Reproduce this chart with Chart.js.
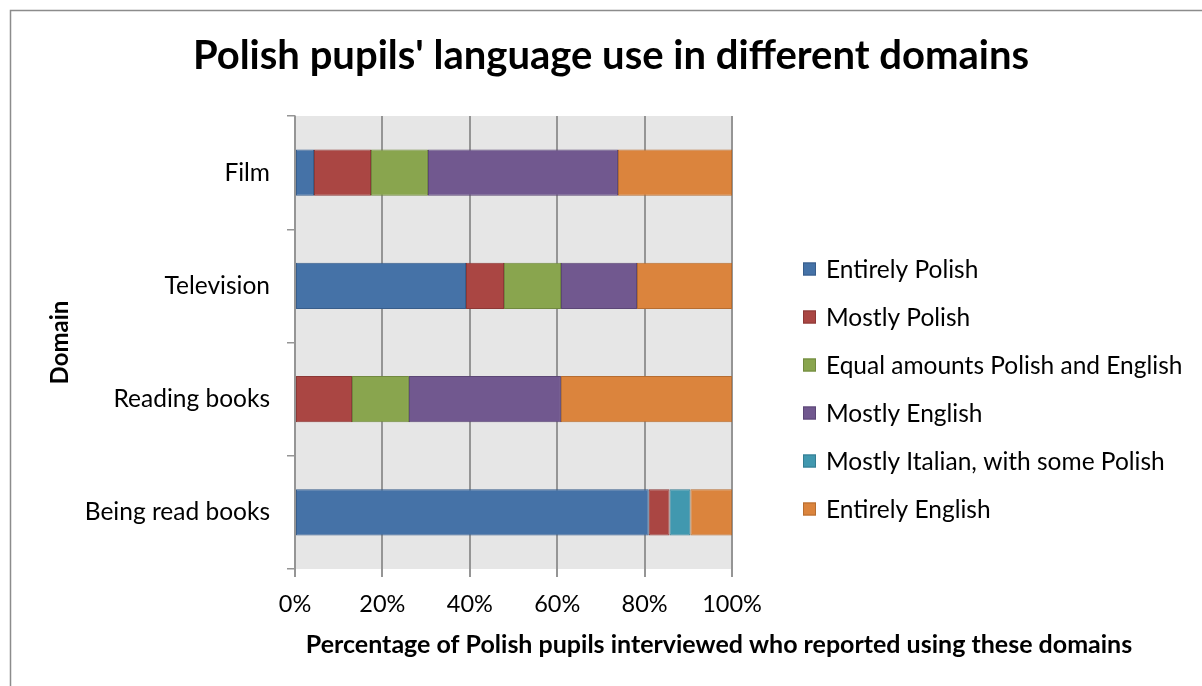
<!DOCTYPE html>
<html>
<head>
<meta charset="utf-8">
<script src="https://cdn.jsdelivr.net/npm/chart.js@4.4.1/dist/chart.umd.min.js"></script>
<style>
  html, body { margin: 0; padding: 0; background: #fff; }
  #wrap { width: 1202px; height: 686px; position: relative; }
</style>
</head>
<body>
<div id="wrap"><canvas id="domainChart" width="1202" height="686"></canvas></div>
<script>
const domains = ["Film", "Television", "Reading books", "Being read books"];

// share of pupils (%) per domain, one array per answer
const entirelyPolish = [4.35, 39.13, null, 80.95];
const mostlyPolish = [13.04, 8.70, 13.04, 4.76];
const equalAmounts = [13.04, 13.04, 13.04, null];
const mostlyEnglish = [43.48, 17.39, 34.78, null];
const mostlyItalian = [null, null, null, 4.76];
const entirelyEnglish = [26.09, 21.74, 39.13, 9.52];

const xTicks = [0, 20, 40, 60, 80, 100];

const chartTitle = "Polish pupils' language use in different domains";
const xTitle = "Percentage of Polish pupils interviewed who reported using these domains";

const FONT = "Lato, 'Open Sans', sans-serif";

const series = [
    { label: "Entirely Polish", data: entirelyPolish, fill: "#4572a7", edge: "#385d8a" },
    { label: "Mostly Polish", data: mostlyPolish, fill: "#aa4643", edge: "#8c3836" },
    { label: "Equal amounts Polish and English", data: equalAmounts, fill: "#89a54e", edge: "#71893f" },
    { label: "Mostly English", data: mostlyEnglish, fill: "#71588f", edge: "#5c4776" },
    { label: "Mostly Italian, with some Polish", data: mostlyItalian, fill: "#4198af", edge: "#357d91" },
    { label: "Entirely English", data: entirelyEnglish, fill: "#db843d", edge: "#b66d31" }
];

// grey plot background + outer frame
const backdrop = {
    id: "backdrop",
    beforeDraw(chart) {
        const { ctx, chartArea: a } = chart;
        ctx.save();
        ctx.fillStyle = "#e6e6e6";
        ctx.fillRect(a.left, a.top, a.right - a.left, a.bottom - a.top);
        ctx.strokeStyle = "#8c8c8c";
        ctx.lineWidth = 1.5;
        ctx.strokeRect(10.5, 10.5, 1400, 900);
        ctx.restore();
    }
};

// title, x-axis caption and legend drawn outside the plot area
const decorations = {
    id: "decorations",
    afterDraw(chart) {
        const { ctx } = chart;
        ctx.save();
        ctx.fillStyle = "#000";
        ctx.textAlign = "center";
        ctx.textBaseline = "alphabetic";
        ctx.font = "bold 40px " + FONT;
        ctx.fillText(chartTitle, 611, 69);
        ctx.font = "bold 25px " + FONT;
        ctx.fillText(xTitle, 719, 653);

        ctx.textAlign = "left";
        ctx.textBaseline = "middle";
        ctx.font = "24.5px " + FONT;
        chart.data.datasets.forEach((ds, i) => {
            const y = 269 + i * 48;
            ctx.fillStyle = ds.backgroundColor;
            ctx.fillRect(803, y - 6.5, 13, 13);
            ctx.strokeStyle = ds.borderColor;
            ctx.lineWidth = 1;
            ctx.strokeRect(803.5, y - 6, 12, 12);
            ctx.fillStyle = "#000";
            ctx.fillText(ds.label, 826, y + 1);
        });
        ctx.restore();
    }
};

new Chart(document.getElementById("domainChart"), {
    type: "bar",
    data: {
        labels: domains,
        datasets: series.map(s => ({
            label: s.label,
            data: s.data,
            backgroundColor: s.fill,
            borderColor: s.edge,
            borderWidth: 1,
            borderSkipped: false,
            barPercentage: 0.41,
            categoryPercentage: 1
        }))
    },
    options: {
        indexAxis: "y",
        responsive: false,
        animation: false,
        layout: { padding: { left: 10, right: 470, top: 116, bottom: 0 } },
        plugins: {
            legend: { display: false },
            tooltip: { enabled: false },
            title: { display: false }
        },
        scales: {
            x: {
                stacked: true,
                min: 0,
                max: 100,
                afterBuildTicks(scale) { scale.ticks = xTicks.map(v => ({ value: v })); },
                afterFit(scale) { scale.height = 117; },
                ticks: {
                    color: "#000",
                    font: { family: FONT, size: 23.5 },
                    padding: 13,
                    callback: v => v + "%"
                },
                grid: { color: "#959595", lineWidth: 2, tickLength: 8 },
                border: { display: false }
            },
            y: {
                stacked: true,
                afterFit(scale) { scale.width = 285; },
                ticks: {
                    color: "#000",
                    font: { family: FONT, size: 24.5 },
                    padding: 17
                },
                grid: { drawOnChartArea: false, color: "#959595", lineWidth: 1.5, tickLength: 8 },
                border: { display: true, color: "#959595", width: 1.5 },
                title: {
                    display: true,
                    text: "Domain",
                    color: "#000",
                    font: { family: FONT, size: 24, weight: "bold" },
                    padding: { top: 36, bottom: 0 }
                }
            }
        }
    },
    plugins: [backdrop, decorations]
});
</script>
</body>
</html>
